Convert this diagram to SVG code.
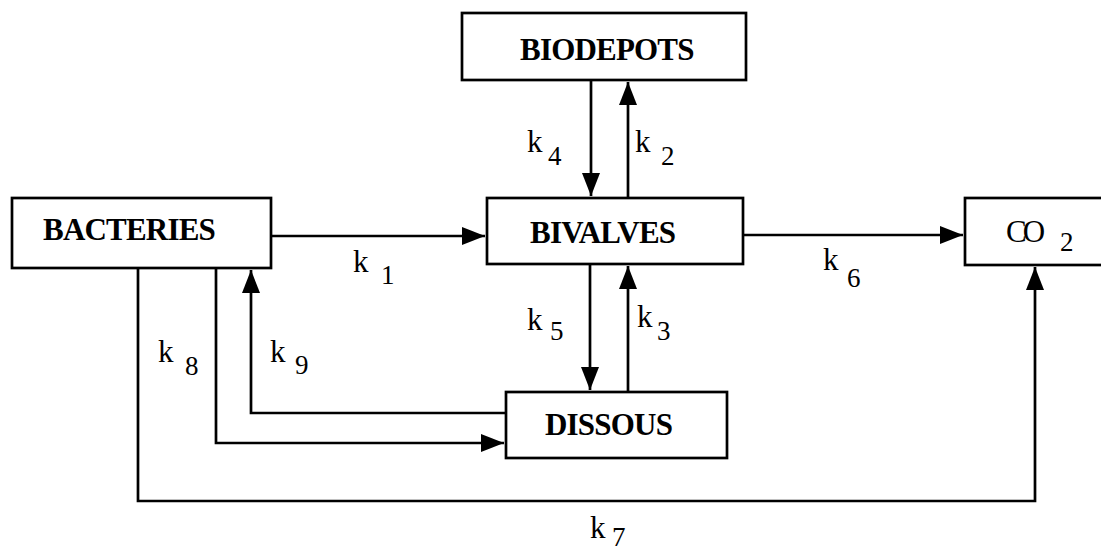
<svg xmlns="http://www.w3.org/2000/svg" width="1101" height="553" viewBox="0 0 1101 553">
<defs>
<style>
.box{fill:#fff;stroke:#000;stroke-width:2.7}
.name{font-family:"Liberation Serif","Times New Roman",serif;font-weight:bold;font-size:31px;letter-spacing:-0.8px;fill:#000}
.lab{font-family:"Liberation Serif","Times New Roman",serif;font-size:31px;fill:#000}
.sub{font-size:27px}
.con{fill:none;stroke:#000;stroke-width:2.7}
</style>
<marker id="ah" markerUnits="userSpaceOnUse" markerWidth="23" markerHeight="18" refX="23" refY="9" orient="auto" viewBox="0 0 23 18">
<path d="M0,0 L23,9 L0,18 Z" fill="#000"/>
</marker>
</defs>
<rect width="1101" height="553" fill="#fff"/>
<g id="connectors">
<path class="con" d="M271,236 H485" marker-end="url(#ah)"/>
<path class="con" d="M743,235 H963" marker-end="url(#ah)"/>
<path class="con" d="M591,80 V196" marker-end="url(#ah)"/>
<path class="con" d="M628,198 V82" marker-end="url(#ah)"/>
<path class="con" d="M590,264 V390" marker-end="url(#ah)"/>
<path class="con" d="M628,392 V266" marker-end="url(#ah)"/>
<path class="con" d="M138,268 V501 H1035 V267" marker-end="url(#ah)"/>
<path class="con" d="M216,268 V443 H504" marker-end="url(#ah)"/>
<path class="con" d="M506,413 H251 V270" marker-end="url(#ah)"/>
<text class="lab"><tspan x="353" y="272">k</tspan><tspan class="sub" x="381" y="284">1</tspan></text>
<text class="lab"><tspan x="635" y="152">k</tspan><tspan class="sub" x="661" y="165">2</tspan></text>
<text class="lab"><tspan x="637" y="327">k</tspan><tspan class="sub" x="657" y="340">3</tspan></text>
<text class="lab"><tspan x="527" y="152">k</tspan><tspan class="sub" x="548" y="165">4</tspan></text>
<text class="lab"><tspan x="527" y="330">k</tspan><tspan class="sub" x="550" y="340">5</tspan></text>
<text class="lab"><tspan x="823" y="270">k</tspan><tspan class="sub" x="847" y="287">6</tspan></text>
<text class="lab"><tspan x="590" y="538">k</tspan><tspan class="sub" x="612" y="546">7</tspan></text>
<text class="lab"><tspan x="158" y="362">k</tspan><tspan class="sub" x="185" y="375">8</tspan></text>
<text class="lab"><tspan x="270" y="362">k</tspan><tspan class="sub" x="295" y="374">9</tspan></text>
</g>
<g id="biodepots">
<rect class="box" x="462" y="13" width="284" height="67"/>
<text class="name" x="520" y="60">BIODEPOTS</text>
</g>
<g id="bacteries">
<rect class="box" x="12" y="198" width="259" height="70"/>
<text class="name" x="43" y="240">BACTERIES</text>
</g>
<g id="bivalves">
<rect class="box" x="487" y="198" width="256" height="66"/>
<text class="name" x="530" y="243">BIVALVES</text>
</g>
<g id="co2">
<rect class="box" x="965" y="198" width="150" height="67"/>
<text class="lab" style="letter-spacing:-4px" x="1006" y="242">CO</text>
<text class="lab sub" x="1060" y="251">2</text>
</g>
<g id="dissous">
<rect class="box" x="506" y="392" width="221" height="66"/>
<text class="name" x="545" y="435">DISSOUS</text>
</g>
</svg>
